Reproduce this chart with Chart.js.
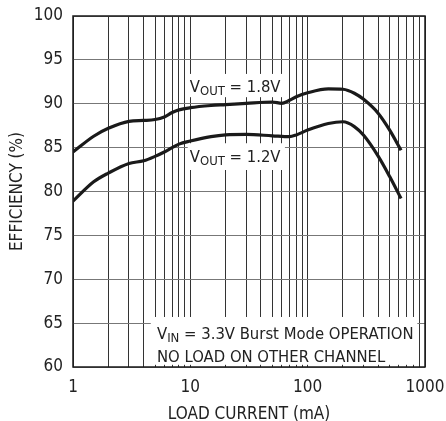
<!DOCTYPE html>
<html><head><meta charset="utf-8">
<script src="https://cdn.jsdelivr.net/npm/chart.js@4.4.0/dist/chart.umd.min.js"></script>
<style>html,body{margin:0;padding:0;background:#fff;}</style>
</head><body>
<canvas id="c" width="446" height="421"></canvas>
<script>
// ---- data ----
const loadCurrent18 = [1, 1.5, 2, 3, 4, 5, 6, 7, 8, 10, 15, 20, 30, 50, 60, 70, 80, 100, 150, 200, 250, 300, 400, 500, 625];
const efficiency18  = [84.5, 86.3, 87.2, 88.0, 88.1, 88.2, 88.5, 89.0, 89.3, 89.55, 89.8, 89.9, 90.05, 90.2, 90.05, 90.4, 90.8, 91.25, 91.7, 91.65, 91.2, 90.5, 88.9, 87.0, 84.7];
const loadCurrent12 = [1, 1.5, 2, 3, 4, 5, 6, 7, 8, 10, 15, 20, 30, 50, 70, 80, 100, 150, 200, 250, 300, 400, 500, 625];
const efficiency12  = [78.9, 81.1, 82.1, 83.2, 83.5, 84.0, 84.5, 85.0, 85.4, 85.75, 86.25, 86.45, 86.5, 86.35, 86.25, 86.45, 87.0, 87.75, 87.95, 87.4, 86.4, 84.0, 81.7, 79.2];
const xGridValues = [1,2,3,4,5,6,7,8,9,10,20,30,40,50,60,70,80,90,100,200,300,400,500,600,700,800,900,1000];
const xLabelValues = [1, 10, 100, 1000];
const xTickLabels = ['1', '10', '100', '1000'];
const yTickValues = [60, 65, 70, 75, 80, 85, 90, 95, 100];
const xTitle = 'LOAD CURRENT (mA)';
const yTitle = 'EFFICIENCY (%)';
const seriesNames = ['VOUT = 1.8V', 'VOUT = 1.2V'];

// ---- font sizing ----
const FAMILY = "'Liberation Sans Narrow', 'Arial Narrow', 'DejaVu Sans Condensed', 'Liberation Sans', sans-serif";
const mctx = document.createElement('canvas').getContext('2d');
mctx.font = '100px ' + FAMILY;
const FS = Math.round(163 / mctx.measureText(xTitle).width * 100 * 2) / 2;
const TEXT = '#222';

// annotation layout (data-space anchors)
const boxes = [
  {x0: 9.5, x1: 64, y0: 90.75, y1: 93.4},
  {x0: 9.5, x1: 64, y0: 82.45, y1: 85.5},
  {x0: 4.6, x1: 860, y0: 60.25, y1: 65.7}
];
const texts = [
  {x: 9.9, y: 91.35, parts: [['V', 0], ['OUT', 1], [' = 1.8V', 0]]},
  {x: 9.9, y: 83.4, parts: [['V', 0], ['OUT', 1], [' = 1.2V', 0]]},
  {x: 5.2, y: 63.2, parts: [['V', 0], ['IN', 1], [' = 3.3V Burst Mode OPERATION', 0]]},
  {x: 5.2, y: 60.6, parts: [['NO LOAD ON OTHER CHANNEL', 0]]}
];

// annotation font size chosen so the long note is ~256px wide
function richWidth(parts, fs) {
  let w = 0;
  for (const [s, sub] of parts) { mctx.font = (sub ? Math.round(fs * 0.8) : fs) + 'px ' + FAMILY; w += mctx.measureText(s).width; }
  return w;
}
const AF = Math.round(FS * 256 / richWidth(texts[2].parts, FS) * 2) / 2;
const ASUB = Math.round(AF * 0.8);

const annot = {
  id: 'annot',
  beforeDatasetsDraw(chart) {
    const {ctx, chartArea: a} = chart;
    const sx = chart.scales.x, sy = chart.scales.y;
    ctx.save();
    ctx.fillStyle = '#fff';
    for (const b of boxes) {
      const x0 = sx.getPixelForValue(b.x0), x1 = sx.getPixelForValue(b.x1);
      const y0 = sy.getPixelForValue(b.y1), y1 = sy.getPixelForValue(b.y0);
      ctx.fillRect(x0, y0, x1 - x0, y1 - y0);
    }
    ctx.strokeStyle = '#1a1a1a';
    ctx.lineWidth = 1.5;
    ctx.strokeRect(a.left, a.top, a.right - a.left, a.bottom - a.top);
    ctx.fillStyle = TEXT;
    ctx.textBaseline = 'alphabetic';
    ctx.textAlign = 'left';
    for (const t of texts) {
      let cx = sx.getPixelForValue(t.x);
      const by = sy.getPixelForValue(t.y);
      for (const [s, sub] of t.parts) {
        ctx.font = (sub ? ASUB : AF) + 'px ' + FAMILY;
        ctx.fillText(s, cx, by + (sub ? 3 : 0));
        cx += ctx.measureText(s).width;
      }
    }
    ctx.restore();
  }
};

new Chart(document.getElementById('c'), {
  type: 'line',
  data: {
    datasets: [
      {label: seriesNames[0], data: loadCurrent18.map((x, i) => ({x, y: efficiency18[i]})),
       borderColor: '#1a1a1a', borderWidth: 3.2, pointRadius: 0, cubicInterpolationMode: 'monotone', fill: false},
      {label: seriesNames[1], data: loadCurrent12.map((x, i) => ({x, y: efficiency12[i]})),
       borderColor: '#1a1a1a', borderWidth: 3.2, pointRadius: 0, cubicInterpolationMode: 'monotone', fill: false}
    ]
  },
  options: {
    responsive: false, animation: false, devicePixelRatio: 1,
    layout: {padding: {top: 16, right: 21, left: 0, bottom: 0}},
    plugins: {legend: {display: false}, tooltip: {enabled: false}},
    scales: {
      x: {
        type: 'logarithmic', min: 1, max: 1000,
        afterBuildTicks: s => { s.ticks = xGridValues.map(v => ({value: v})); },
        afterFit: s => { s.height = 54; s.paddingLeft = 0; s.paddingRight = 0; },
        ticks: {
          autoSkip: false, maxRotation: 0, padding: 10, color: TEXT,
          font: {family: FAMILY, size: FS},
          callback: v => { const i = xLabelValues.indexOf(v); return i >= 0 ? xTickLabels[i] : ''; }
        },
        grid: {color: '#333', lineWidth: 1, drawTicks: false},
        border: {display: false},
        title: {display: true, text: xTitle, color: TEXT, font: {family: FAMILY, size: FS, lineHeight: 1}, padding: {top: 0, bottom: -2}}
      },
      y: {
        min: 60, max: 100,
        afterBuildTicks: s => { s.ticks = yTickValues.map(v => ({value: v})); },
        afterFit: s => { s.width = 73; s.paddingTop = 0; s.paddingBottom = 0; },
        ticks: {padding: 10, color: TEXT, font: {family: FAMILY, size: FS}},
        grid: {color: '#777', lineWidth: 1, drawTicks: false},
        border: {display: false},
        title: {display: true, text: yTitle, color: TEXT, font: {family: FAMILY, size: FS, lineHeight: 1}, padding: {top: 9, bottom: 0}}
      }
    }
  },
  plugins: [annot]
});
</script>
</body></html>
